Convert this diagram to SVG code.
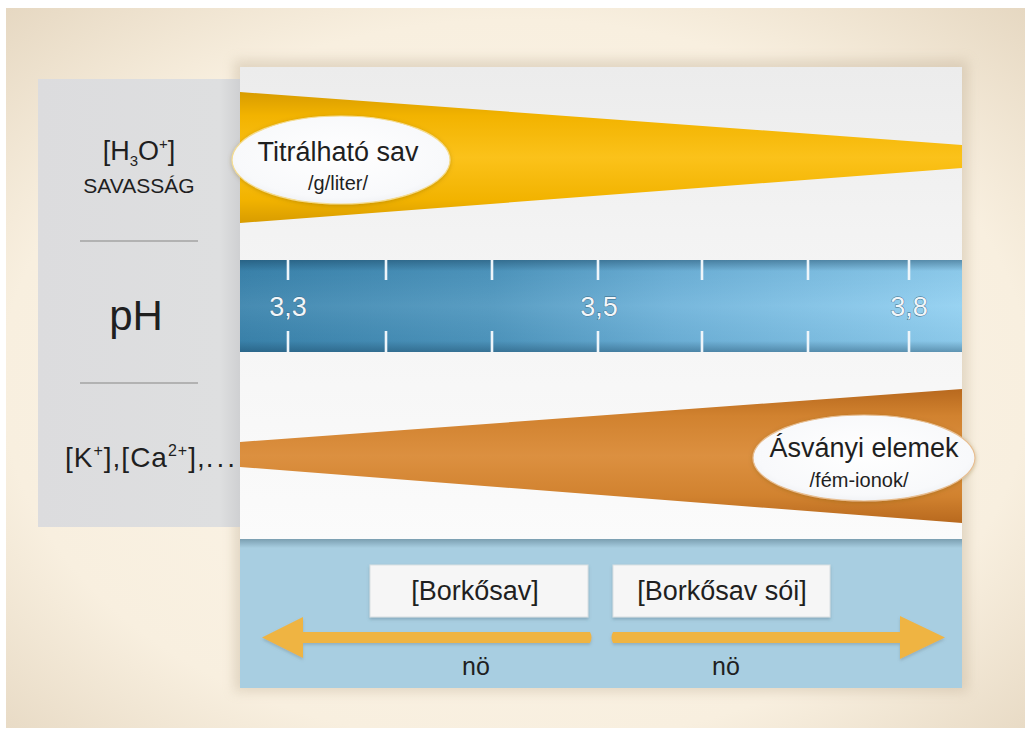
<svg xmlns="http://www.w3.org/2000/svg" width="1031" height="735" viewBox="0 0 1031 735">
  <defs>
    <style>
      .t { font-family: "Liberation Sans", Arial, Helvetica, sans-serif; fill: #1f1f1f; }
      .mid { text-anchor: middle; }
      .sep { stroke: #a3a3a3; stroke-width: 1.6; }
      .tick { stroke: #eef5fa; stroke-width: 2.6; }
      .scale { font-family: "Liberation Sans", Arial, sans-serif; font-size: 27px; fill: #f2f6f9; text-anchor: middle; stroke: #3a6884; stroke-width: 0.8; paint-order: stroke; }
      .box { fill: #f6f6f6; stroke: #d9dfe2; stroke-width: 1; }
      .arrow { fill: #efb443; }
    </style>
    <radialGradient id="bgGrad" cx="0.5" cy="0.52" r="0.72">
      <stop offset="0" stop-color="#fcf6ea"/>
      <stop offset="0.7" stop-color="#f8efdf"/>
      <stop offset="1" stop-color="#e6d8c2"/>
    </radialGradient>
    <linearGradient id="panelGrad" x1="0" y1="0" x2="0" y2="1">
      <stop offset="0" stop-color="#ececec"/>
      <stop offset="0.35" stop-color="#f3f3f3"/>
      <stop offset="1" stop-color="#fbfbfb"/>
    </linearGradient>
    <linearGradient id="sideGrad" x1="0" y1="0" x2="1" y2="0">
      <stop offset="0" stop-color="#dcdcde"/>
      <stop offset="0.9" stop-color="#dedfe0"/>
      <stop offset="1" stop-color="#cfd0d2"/>
    </linearGradient>
    <linearGradient id="yellowGrad" x1="0" y1="0" x2="0" y2="1">
      <stop offset="0" stop-color="#d89c00"/>
      <stop offset="0.18" stop-color="#f2b300"/>
      <stop offset="0.5" stop-color="#fbc21a"/>
      <stop offset="0.82" stop-color="#f2b300"/>
      <stop offset="1" stop-color="#d89c00"/>
    </linearGradient>
    <linearGradient id="orangeGrad" x1="0" y1="0" x2="0" y2="1">
      <stop offset="0" stop-color="#b8691e"/>
      <stop offset="0.2" stop-color="#d1822f"/>
      <stop offset="0.5" stop-color="#dc9040"/>
      <stop offset="0.8" stop-color="#d1822f"/>
      <stop offset="1" stop-color="#b8691e"/>
    </linearGradient>
    <linearGradient id="bandGrad" x1="0" y1="0" x2="1" y2="0">
      <stop offset="0" stop-color="#3b84ad"/>
      <stop offset="0.35" stop-color="#4f97bf"/>
      <stop offset="0.6" stop-color="#6fb3da"/>
      <stop offset="1" stop-color="#92d0f1"/>
    </linearGradient>
    <linearGradient id="bandShade" x1="0" y1="0" x2="0" y2="1">
      <stop offset="0" stop-color="#123a55" stop-opacity="0.45"/>
      <stop offset="0.12" stop-color="#123a55" stop-opacity="0.05"/>
      <stop offset="0.5" stop-color="#ffffff" stop-opacity="0.06"/>
      <stop offset="0.88" stop-color="#123a55" stop-opacity="0.05"/>
      <stop offset="1" stop-color="#123a55" stop-opacity="0.4"/>
    </linearGradient>
    <linearGradient id="bottomShade" x1="0" y1="0" x2="0" y2="1">
      <stop offset="0" stop-color="#5d7f90" stop-opacity="0.6"/>
      <stop offset="1" stop-color="#5d7f90" stop-opacity="0"/>
    </linearGradient>
    <radialGradient id="ovalGrad" cx="0.5" cy="0.45" r="0.6">
      <stop offset="0" stop-color="#ffffff"/>
      <stop offset="0.8" stop-color="#f8f9fb"/>
      <stop offset="1" stop-color="#eceef2"/>
    </radialGradient>
    <filter id="soft" x="-10%" y="-10%" width="120%" height="120%">
      <feGaussianBlur stdDeviation="6"/>
    </filter>
    <filter id="ovalShadow" x="-20%" y="-30%" width="140%" height="160%">
      <feDropShadow dx="0" dy="1" stdDeviation="2" flood-color="#7a5a10" flood-opacity="0.35"/>
    </filter>
    <filter id="boxShadow" x="-10%" y="-20%" width="120%" height="150%">
      <feDropShadow dx="0" dy="2" stdDeviation="1.5" flood-color="#4a6878" flood-opacity="0.35"/>
    </filter>
    <filter id="arrowShadow" x="-5%" y="-40%" width="110%" height="180%">
      <feDropShadow dx="0" dy="2" stdDeviation="1.5" flood-color="#6b7d80" flood-opacity="0.35"/>
    </filter>
  </defs>

  <!-- backdrop -->
  <rect x="0" y="0" width="1031" height="735" fill="#ffffff"/>
  <rect x="6" y="8" width="1019" height="720" fill="url(#bgGrad)"/>

  <!-- panel shadows -->
  <rect x="234" y="60" width="734" height="632" fill="#b8a68c" opacity="0.35" filter="url(#soft)"/>

  <!-- left caption column -->
  <g id="caption-column">
    <rect x="38" y="79" width="202" height="448" fill="url(#sideGrad)"/>
    <text class="t mid" x="139" y="160" font-size="27">[H<tspan font-size="15" dy="6">3</tspan><tspan dy="-6">O</tspan><tspan font-size="15" dy="-11">+</tspan><tspan dy="11">]</tspan></text>
    <text class="t mid" x="139" y="193" font-size="21">SAVASSÁG</text>
    <line class="sep" x1="80" y1="241" x2="198" y2="241"/>
    <text class="t mid" x="136" y="330" font-size="42">pH</text>
    <line class="sep" x1="80" y1="383" x2="198" y2="383"/>
    <text class="t" x="65" y="467" font-size="28" letter-spacing="1">[K<tspan font-size="16" dy="-11">+</tspan><tspan dy="11">],[Ca</tspan><tspan font-size="16" dy="-11">2+</tspan><tspan dy="11">],</tspan><tspan letter-spacing="3">...</tspan></text>
  </g>

  <!-- main chart panel -->
  <g id="chart-panel">
    <rect x="240" y="67" width="722" height="472" fill="url(#panelGrad)"/>
  </g>

  <!-- titratable acid wedge -->
  <g id="titratable-acid">
    <polygon points="240,92 962,145 962,168 240,223" fill="url(#yellowGrad)"/>
    <ellipse cx="341" cy="160" rx="109" ry="44" fill="url(#ovalGrad)" stroke="#f5dc90" stroke-width="1.2" filter="url(#ovalShadow)"/>
    <text class="t mid" x="338" y="161" font-size="27">Titrálható sav</text>
    <text class="t mid" x="338" y="190" font-size="20">/g/liter/</text>
  </g>

  <!-- pH scale band -->
  <g id="ph-scale">
    <rect x="240" y="260" width="722" height="92" fill="url(#bandGrad)"/>
    <rect x="240" y="260" width="722" height="92" fill="url(#bandShade)"/>
    <g>
      <line class="tick" x1="288" y1="260" x2="288" y2="280"/>
      <line class="tick" x1="386" y1="260" x2="386" y2="280"/>
      <line class="tick" x1="492" y1="260" x2="492" y2="280"/>
      <line class="tick" x1="598" y1="260" x2="598" y2="280"/>
      <line class="tick" x1="702" y1="260" x2="702" y2="280"/>
      <line class="tick" x1="808" y1="260" x2="808" y2="280"/>
      <line class="tick" x1="909" y1="260" x2="909" y2="280"/>
      <line class="tick" x1="288" y1="331" x2="288" y2="352"/>
      <line class="tick" x1="386" y1="331" x2="386" y2="352"/>
      <line class="tick" x1="492" y1="331" x2="492" y2="352"/>
      <line class="tick" x1="598" y1="331" x2="598" y2="352"/>
      <line class="tick" x1="702" y1="331" x2="702" y2="352"/>
      <line class="tick" x1="808" y1="331" x2="808" y2="352"/>
      <line class="tick" x1="909" y1="331" x2="909" y2="352"/>
    </g>
    <text class="scale" x="288" y="316">3,3</text>
    <text class="scale" x="599" y="316">3,5</text>
    <text class="scale" x="909" y="316">3,8</text>
  </g>

  <!-- mineral elements wedge -->
  <g id="mineral-elements">
    <polygon points="240,442 962,389 962,523 240,467" fill="url(#orangeGrad)"/>
    <ellipse cx="864" cy="458" rx="111" ry="43" fill="url(#ovalGrad)" stroke="#e8be90" stroke-width="1.2" filter="url(#ovalShadow)"/>
    <text class="t mid" x="864" y="457" font-size="27">Ásványi elemek</text>
    <text class="t mid" x="859" y="487" font-size="20">/fém-ionok/</text>
  </g>

  <!-- tartaric acid strip -->
  <g id="tartaric-strip">
    <rect x="240" y="539" width="722" height="149" fill="#a8cee1"/>
    <rect x="240" y="539" width="722" height="9" fill="url(#bottomShade)"/>
  </g>

  <g id="tartaric-acid">
    <rect class="box" x="370" y="565" width="218" height="52" filter="url(#boxShadow)"/>
    <text class="t mid" x="475" y="600" font-size="27">[Borkősav]</text>
  </g>

  <g id="tartaric-salts">
    <rect class="box" x="613" y="565" width="217" height="52" filter="url(#boxShadow)"/>
    <text class="t mid" x="722" y="600" font-size="27">[Borkősav sói]</text>
  </g>

  <!-- connectors -->
  <g id="connectors">
    <g filter="url(#arrowShadow)">
      <path class="arrow" d="M590,632 L303,632 L303,617 L262,637.5 L303,658 L303,643 L590,643 Q593,637.5 590,632 Z"/>
      <path class="arrow" d="M613,632 L900,632 L900,616 L945,637.5 L900,659 L900,643 L613,643 Q610,637.5 613,632 Z"/>
    </g>
    <text class="t mid" x="476" y="675" font-size="25">nö</text>
    <text class="t mid" x="726" y="675" font-size="25">nö</text>
  </g>
</svg>
